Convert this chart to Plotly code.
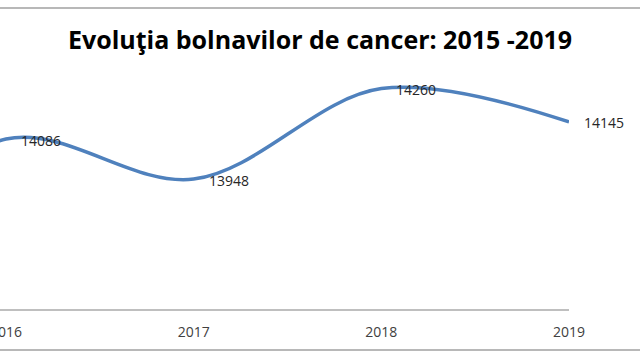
import plotly.graph_objects as go

years = [2015, 2016, 2017, 2018, 2019]
patients = [13600, 14086, 13948, 14260, 14145]
tick_years = [2015, 2016, 2017, 2018, 2019]
tick_labels = ["2015", "2016", "2017", "2018", "2019"]
title_text = "Evoluţia bolnavilor de cancer: 2015 -2019"

W, H = 640, 360
ml, mr, mt, mb = 0, 71, 48, 51
plot_h = H - mt - mb
plot_w = W - ml - mr
step_px = (plot_w - 6) / 3.0
x_min = 2016 - 6 / step_px
x_max = 2019

def paper_y(pix):
    return (H - mb - pix) / plot_h

fig = go.Figure()
fig.add_trace(go.Scatter(
    x=years, y=patients, mode="lines",
    line=dict(color="#4f81bd", width=3.5, shape="spline", smoothing=1.0),
    hoverinfo="x+y", showlegend=False,
))

for x, y in zip(years, patients):
    fig.add_annotation(x=x, y=y, text=str(y), showarrow=False,
                       xanchor="left", yanchor="middle", xshift=13, yshift=-1,
                       font=dict(family="Open Sans", size=14, color="#262626"))

for pix in (8, 350):
    fig.add_shape(type="line", xref="paper", yref="paper",
                  x0=-0.05, x1=1.2, y0=paper_y(pix), y1=paper_y(pix),
                  line=dict(color="#a0a0a0", width=1.5))

fig.update_layout(
    width=W, height=H,
    margin=dict(l=ml, r=mr, t=mt, b=mb, autoexpand=False),
    paper_bgcolor="white", plot_bgcolor="white",
    title=dict(text="<b>" + title_text + "</b>", x=0.5, xref="container", xanchor="center",
               y=1 - 40 / H, yref="container", yanchor="middle",
               font=dict(family="Open Sans", size=25, color="#000000")),
    xaxis=dict(range=[x_min, x_max], tickmode="array", tickvals=tick_years, ticktext=tick_labels,
               showgrid=False, zeroline=False, showline=True, linecolor="#bfbfbf", linewidth=1.5,
               ticks="outside", ticklen=9, tickcolor="rgba(0,0,0,0)",
               ticklabeloverflow="allow", automargin=False,
               tickfont=dict(family="Open Sans", size=14, color="#404040")),
    yaxis=dict(range=[13500, 14400], showgrid=False, zeroline=False, showline=False,
               showticklabels=False, ticks="", automargin=False),
)

fig.write_html("out.html", config={"displayModeBar": False},
               post_script="document.body.style.margin='0';document.body.style.padding='0';")
